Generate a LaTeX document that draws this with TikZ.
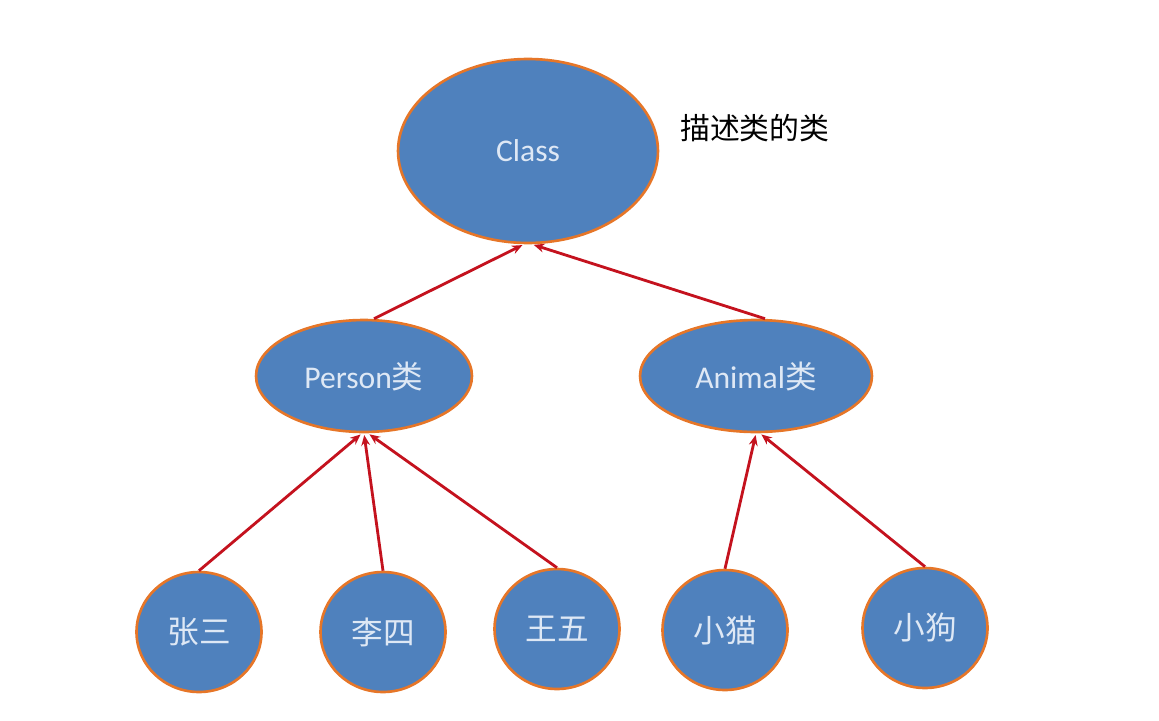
\documentclass[tikz,border=0pt]{standalone}
\usepackage{fontspec}
\usepackage{tikz}
\usetikzlibrary{shapes.geometric, arrows.meta, positioning}
\setmainfont{Carlito}
\newfontfamily\zhfont{Noto Sans CJK SC}
\definecolor{nodeblue}{RGB}{79,129,189}
\definecolor{nodeedge}{RGB}{230,118,40}
\definecolor{nodetext}{RGB}{222,232,245}
\definecolor{linkred}{RGB}{196,18,30}

\begin{document}
\begin{tikzpicture}[x=0.02cm, y=-0.02cm,
  cls/.style={ellipse, draw=nodeedge, line width=1.5pt, fill=nodeblue, text=nodetext, inner sep=0pt, font=\fontsize{18}{20}\selectfont},
  obj/.style={cls, minimum width=2.5cm, minimum height=2.4cm},
  link/.style={-{Stealth[length=6pt, width=5pt]}, linkred, line width=1.6pt, shorten >=1pt}]
  \useasboundingbox (0,0) rectangle (1159,720);
  % class level
  \node[cls, minimum width=5.2cm, minimum height=3.68cm] (class) at (528,151) {Class};
  \node[font=\zhfont\fontsize{17}{19}\selectfont, anchor=west] (meta) at (674,128) {描述类的类};
  \node[cls, minimum width=4.32cm, minimum height=2.24cm] (person) at (364,376) {Person{\zhfont 类}};
  \node[cls, minimum width=4.64cm, minimum height=2.24cm] (animal) at (756,376) {Animal{\zhfont 类}};
  % objects
  \node[obj] (zhang) at (199,632) {\zhfont 张三};
  \node[obj] (li) at (383,632) {\zhfont 李四};
  \node[obj] (wang) at (557,629) {\zhfont 王五};
  \node[obj] (cat) at (725,630) {\zhfont 小猫};
  \node[obj] (dog) at (925,628) {\zhfont 小狗};
  % links
  \draw[link] ([xshift=0.2cm]person.north) -- ([xshift=-0.08cm]class.south);
  \draw[link] ([xshift=0.18cm]animal.north) -- ([xshift=0.08cm]class.south);
  \draw[link] (zhang.north) -- ([xshift=-0.04cm]person.south);
  \draw[link] (li.north) -- (person.south);
  \draw[link] (wang.north) -- ([xshift=0.08cm]person.south);
  \draw[link] (cat.north) -- (animal.south);
  \draw[link] (dog.north) -- ([xshift=0.08cm]animal.south);
\end{tikzpicture}
\end{document}
